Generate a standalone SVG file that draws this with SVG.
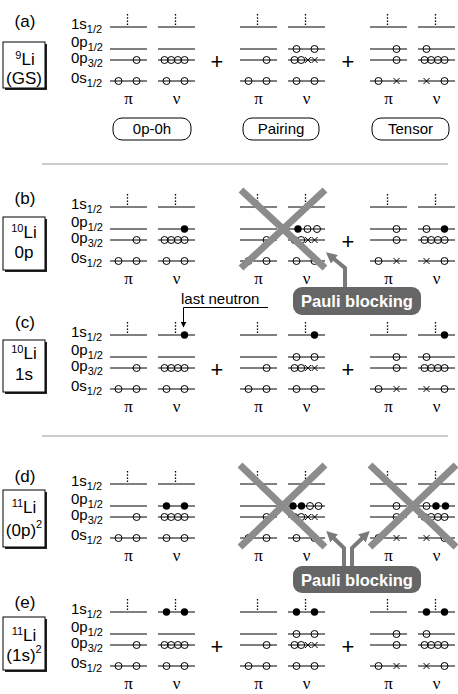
<svg xmlns="http://www.w3.org/2000/svg" xmlns:xlink="http://www.w3.org/1999/xlink" width="458" height="694" viewBox="0 0 458 694">
<style>
.lv{stroke:#000;stroke-width:1;fill:none}
.dot{stroke:#000;stroke-width:1.3;stroke-dasharray:1.6 1.6;fill:none}
.o{fill:none;stroke:#000;stroke-width:1}
.f{fill:#000}
.x{stroke:#000;stroke-width:1;fill:none}
.lab{font-family:"Liberation Sans",Arial,sans-serif;font-size:15px;fill:#000}
.sub{font-size:11px}
.gr{font-family:"Liberation Serif","Times New Roman",serif;font-size:17px;text-anchor:middle}
.plus{font-family:"Liberation Sans",Arial,sans-serif;font-size:22px;text-anchor:middle}
.tag{font-family:"Liberation Sans",Arial,sans-serif;font-size:17px;text-anchor:middle}
.box{fill:#fff;stroke:#000;stroke-width:1}
.shd{fill:#222}
.pill{fill:#fff;stroke:#000;stroke-width:1}
.pt{font-family:"Liberation Sans",Arial,sans-serif;font-size:15px;text-anchor:middle}
.cx{stroke:#8c8c8c;stroke-width:7;fill:none}
.pb{fill:#666}
.pbt{font-family:"Liberation Sans",Arial,sans-serif;font-weight:bold;font-size:16.5px;fill:#fff;text-anchor:middle}
.arr{stroke:#7a7a7a;stroke-width:4;fill:none;marker-end:url(#ga)}
.sep{stroke:#999;stroke-width:1.2}
</style>
<defs>
<marker id="ga" viewBox="0 0 10 10" refX="4" refY="5" markerWidth="11" markerHeight="11" orient="auto" markerUnits="userSpaceOnUse"><path d="M0,0L10,5L0,10z" fill="#7a7a7a"/></marker>
<marker id="ka" viewBox="0 0 10 10" refX="9" refY="5" markerWidth="6" markerHeight="6" orient="auto" markerUnits="userSpaceOnUse"><path d="M0,0L10,5L0,10z" fill="#000"/></marker>
<g id="lv"><path class="lv" d="M0,27H37M0,49H37M0,60H37M0,81H37"/><path class="dot" d="M17.5,14V25"/></g>
<path id="h" class="x" d="M-3,-3L3,3M3,-3L-3,3"/>
<g id="p3">
<circle class="o" cx="6.5" cy="60" r="3.5"/><circle class="o" cx="13.2" cy="60" r="3.5"/><circle class="o" cx="19.9" cy="60" r="3.5"/><circle class="o" cx="26.6" cy="60" r="3.5"/>
</g>
<g id="piStd"><use href="#lv"/><circle class="o" cx="26.6" cy="60" r="3.5"/><circle class="o" cx="8.5" cy="81" r="3.5"/><circle class="o" cx="26.5" cy="81" r="3.5"/><text class="gr" x="18.5" y="104">π</text></g>
<g id="piTen"><use href="#lv"/><circle class="o" cx="26.5" cy="49" r="3.5"/><circle class="o" cx="26.6" cy="60" r="3.5"/><circle class="o" cx="8.5" cy="81" r="3.5"/><use href="#h" x="26.5" y="81"/><text class="gr" x="18.5" y="104">π</text></g>
<g id="nuStd"><use href="#lv"/><use href="#p3"/><circle class="o" cx="8.5" cy="81" r="3.5"/><circle class="o" cx="26.5" cy="81" r="3.5"/><text class="gr" x="18.5" y="104">ν</text></g>
<g id="nuPair"><use href="#lv"/><circle class="o" cx="6.5" cy="60" r="3.5"/><circle class="o" cx="13.2" cy="60" r="3.5"/><use href="#h" x="19.9" y="60"/><use href="#h" x="26.6" y="60"/><circle class="o" cx="8.5" cy="81" r="3.5"/><circle class="o" cx="26.5" cy="81" r="3.5"/><text class="gr" x="18.5" y="104">ν</text></g>
<g id="nuTen"><use href="#lv"/><circle class="o" cx="8.5" cy="49" r="3.5"/><use href="#p3"/><use href="#h" x="8.5" y="81"/><circle class="o" cx="26.5" cy="81" r="3.5"/><text class="gr" x="18.5" y="104">ν</text></g>
<g id="lbls">
<text class="lab" x="71" y="28.5">1s<tspan class="sub" dy="4">1/2</tspan></text>
<text class="lab" x="71" y="46.5">0p<tspan class="sub" dy="4">1/2</tspan></text>
<text class="lab" x="71" y="63">0p<tspan class="sub" dy="4">3/2</tspan></text>
<text class="lab" x="71" y="83">0s<tspan class="sub" dy="4">1/2</tspan></text>
</g>
</defs>
<rect width="458" height="694" fill="#fff"/>

<line class="sep" x1="42" y1="164" x2="448" y2="164"/>
<line class="sep" x1="42" y1="436" x2="448" y2="436"/>

<!-- Row a -->
<g id="row-a">
<text class="tag" x="25" y="27">(a)</text>
<g id="box-a"><rect class="shd" x="5" y="44" width="42" height="46"/><rect class="box" x="3" y="42" width="42" height="46"/>
<text class="tag" x="25" y="65"><tspan font-size="11" dy="-6">9</tspan><tspan dy="6">Li</tspan></text>
<text class="tag" x="24" y="84">(GS)</text></g>
<use href="#lbls"/>
<g id="a-0p0h"><use href="#piStd" x="110"/><use href="#nuStd" x="158"/></g>
<text class="plus" x="217" y="69">+</text>
<g id="a-pair"><use href="#piStd" x="240"/><use href="#nuPair" x="288"/><circle class="o" cx="296.5" cy="49" r="3.5"/><circle class="o" cx="314.5" cy="49" r="3.5"/></g>
<text class="plus" x="348" y="69">+</text>
<g id="a-ten"><use href="#piTen" x="370"/><use href="#nuTen" x="418"/></g>
<g id="pill-0p0h"><rect class="pill" x="113" y="118" width="78" height="22" rx="9"/><text class="pt" x="152" y="134">0p-0h</text></g>
<g id="pill-pair"><rect class="pill" x="243" y="118" width="76" height="22" rx="9"/><text class="pt" x="281" y="134">Pairing</text></g>
<g id="pill-ten"><rect class="pill" x="372" y="118" width="77" height="22" rx="9"/><text class="pt" x="410.5" y="134">Tensor</text></g>
</g>

<!-- Row b -->
<g id="row-b">
<text class="tag" x="25" y="204">(b)</text>
<g id="box-b"><rect class="shd" x="5" y="219" width="42" height="53"/><rect class="box" x="3" y="217" width="42" height="53"/>
<text class="tag" x="24" y="238"><tspan font-size="11" dy="-6">10</tspan><tspan dy="6">Li</tspan></text>
<text class="tag" x="24" y="258">0p</text></g>
<use href="#lbls" y="180"/>
<g id="b-0p0h"><use href="#piStd" x="110" y="180"/><use href="#nuStd" x="158" y="180"/><circle class="f" cx="184.5" cy="229" r="3.7"/></g>
<g id="b-pair"><use href="#piStd" x="240" y="180"/><use href="#nuPair" x="288" y="180"/><circle class="f" cx="298" cy="229" r="3.7"/><circle class="o" cx="307.5" cy="229" r="3.5"/><circle class="o" cx="317" cy="229" r="3.5"/>
<path class="cx" d="M241,190L325,268M325,190L241,268"/></g>
<text class="plus" x="348" y="249">+</text>
<g id="b-ten"><use href="#piTen" x="370" y="180"/><use href="#nuTen" x="418" y="180"/><circle class="f" cx="444.5" cy="229" r="3.7"/></g>
</g>

<!-- Row c -->
<g id="row-c">
<text class="tag" x="25" y="328">(c)</text>
<g id="box-c"><rect class="shd" x="5" y="342" width="42" height="52"/><rect class="box" x="3" y="340" width="42" height="52"/>
<text class="tag" x="24" y="359"><tspan font-size="11" dy="-6">10</tspan><tspan dy="6">Li</tspan></text>
<text class="tag" x="24" y="380">1s</text></g>
<use href="#lbls" y="308"/>
<g id="c-0p0h"><use href="#piStd" x="110" y="308"/><use href="#nuStd" x="158" y="308"/><circle class="f" cx="184.5" cy="335" r="3.7"/></g>
<text class="plus" x="217" y="377">+</text>
<g id="c-pair"><use href="#piStd" x="240" y="308"/><use href="#nuPair" x="288" y="308"/><circle class="o" cx="296.5" cy="357" r="3.5"/><circle class="o" cx="314.5" cy="357" r="3.5"/><circle class="f" cx="314.5" cy="335" r="3.7"/></g>
<text class="plus" x="348" y="377">+</text>
<g id="c-ten"><use href="#piTen" x="370" y="308"/><use href="#nuTen" x="418" y="308"/><circle class="f" cx="444.5" cy="335" r="3.7"/></g>
<text id="last-neutron" class="lab" x="181" y="304" font-size="17">last neutron</text>
</g>

<!-- Row d -->
<g id="row-d">
<text class="tag" x="25" y="482">(d)</text>
<g id="box-d"><rect class="shd" x="5" y="492" width="42" height="57"/><rect class="box" x="3" y="490" width="42" height="57"/>
<text class="tag" x="24" y="513"><tspan font-size="11" dy="-6">11</tspan><tspan dy="6">Li</tspan></text>
<text class="tag" x="24" y="536" font-size="18">(0p)<tspan font-size="11" dy="-8">2</tspan></text></g>
<use href="#lbls" y="457"/>
<g id="d-0p0h"><use href="#piStd" x="110" y="457"/><use href="#nuStd" x="158" y="457"/><circle class="f" cx="166.5" cy="506" r="3.7"/><circle class="f" cx="184.5" cy="506" r="3.7"/></g>
<g id="d-pair"><use href="#piStd" x="240" y="457"/><use href="#nuPair" x="288" y="457"/><circle class="f" cx="293" cy="506" r="3.7"/><circle class="f" cx="301.5" cy="506" r="3.7"/><circle class="o" cx="310" cy="506" r="3.5"/><circle class="o" cx="318.5" cy="506" r="3.5"/>
<path class="cx" d="M240,465L325,547M325,465L240,547"/></g>
<g id="d-ten"><use href="#piTen" x="370" y="457"/><use href="#nuTen" x="418" y="457"/><circle class="f" cx="436" cy="506" r="3.7"/><circle class="f" cx="445.5" cy="506" r="3.7"/>
<path class="cx" d="M370,465L456,547M456,465L370,547"/></g>
</g>

<!-- Row e -->
<g id="row-e">
<text class="tag" x="25" y="608">(e)</text>
<g id="box-e"><rect class="shd" x="5" y="619" width="42" height="53"/><rect class="box" x="3" y="617" width="42" height="53"/>
<text class="tag" x="24" y="641"><tspan font-size="11" dy="-6">11</tspan><tspan dy="6">Li</tspan></text>
<text class="tag" x="24" y="661" font-size="18">(1s)<tspan font-size="11" dy="-8">2</tspan></text></g>
<use href="#lbls" y="585"/>
<g id="e-0p0h"><use href="#piStd" x="110" y="585"/><use href="#nuStd" x="158" y="585"/><circle class="f" cx="166.5" cy="612" r="3.7"/><circle class="f" cx="184.5" cy="612" r="3.7"/></g>
<text class="plus" x="217" y="654">+</text>
<g id="e-pair"><use href="#piStd" x="240" y="585"/><use href="#nuPair" x="288" y="585"/><circle class="o" cx="296.5" cy="634" r="3.5"/><circle class="o" cx="314.5" cy="634" r="3.5"/><circle class="f" cx="296.5" cy="612" r="3.7"/><circle class="f" cx="314.5" cy="612" r="3.7"/></g>
<text class="plus" x="348" y="654">+</text>
<g id="e-ten"><use href="#piTen" x="370" y="585"/><use href="#nuTen" x="418" y="585"/><circle class="f" cx="426.5" cy="612" r="3.7"/><circle class="f" cx="444.5" cy="612" r="3.7"/></g>
</g>

<!-- Pauli blocking labels -->
<g id="pauli-1"><rect class="pb" x="293" y="287" width="128" height="28" rx="9"/><text class="pbt" x="357" y="307">Pauli blocking</text></g>
<g id="pauli-2"><rect class="pb" x="293" y="566" width="128" height="27" rx="9"/><text class="pbt" x="357" y="585.5">Pauli blocking</text></g>

<g id="connectors">
<path class="arr" d="M345,287V268L331,256.5"/>
<path class="arr" d="M344,566V548L331,535.5"/>
<path class="arr" d="M352,566V548L365,535.5"/>
<path d="M268,307.5H183.5V327" fill="none" stroke="#000" stroke-width="1" marker-end="url(#ka)"/>
</g>
</svg>
